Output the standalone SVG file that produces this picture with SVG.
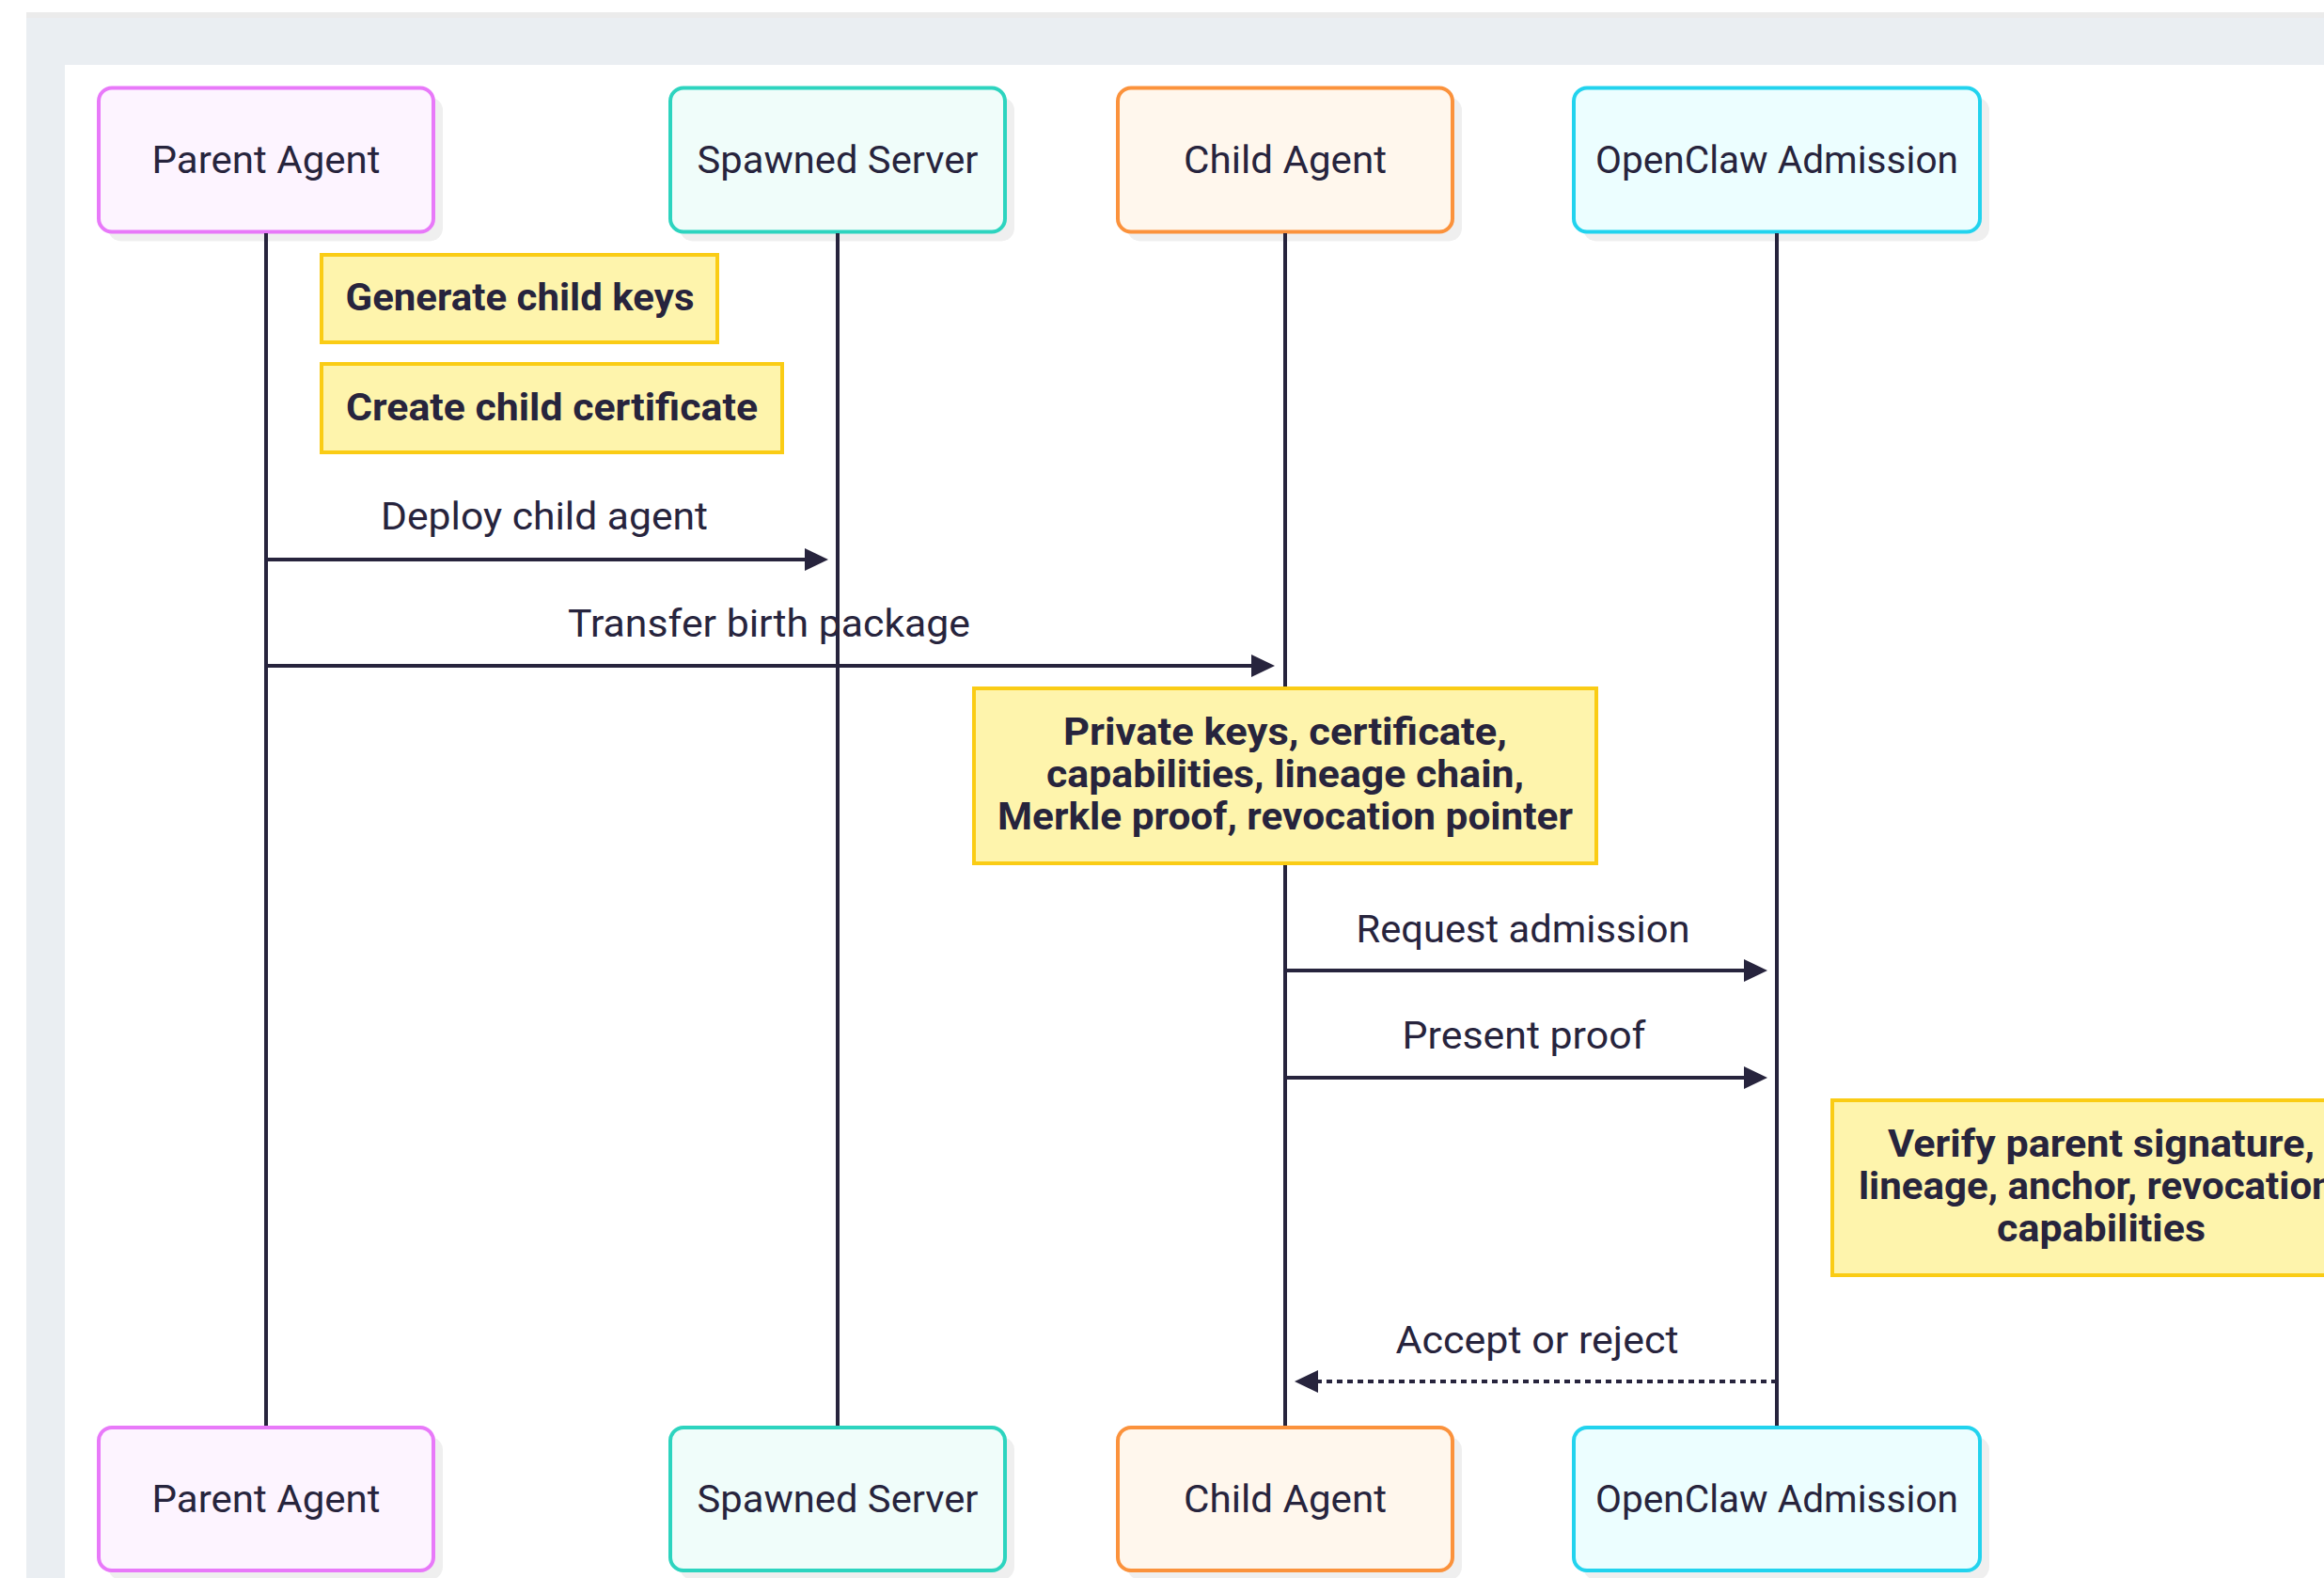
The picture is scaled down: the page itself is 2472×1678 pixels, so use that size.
<svg xmlns="http://www.w3.org/2000/svg" width="2472" height="1678" viewBox="0 0 2472 1678">
  <defs>
    <style>
      .txt { font-family: Roboto, "Noto Sans", sans-serif; font-size: 40px; fill: #27243D; text-anchor: middle; }
      .bold { font-weight: 700; }
      .shadow { fill: #EFEFEF; }
      .box { stroke-width: 4; }
      .parent { fill: #FDF4FF; stroke: #E879F9; }
      .spawned { fill: #F0FDFA; stroke: #2DD4BF; }
      .child { fill: #FFF7ED; stroke: #FB923C; }
      .openclaw { fill: #ECFEFF; stroke: #22D3EE; }
      .note { fill: #FEF4AC; stroke: #FACC15; stroke-width: 4; }
      .lifeline { stroke: #27243D; stroke-width: 4; fill: none; }
      .msg { stroke: #27243D; stroke-width: 4; fill: none; }
      .dashed { stroke-dasharray: 6 5; }
    </style>
    <marker id="arrow" markerUnits="userSpaceOnUse" markerWidth="26" markerHeight="26" refX="15" refY="12" orient="auto">
      <path d="M0,0 L25,12 L0,24 z" fill="#27243D"/>
    </marker>
  </defs>

  <!-- frame -->
  <rect x="28" y="13" width="2444" height="1665" fill="#EAEEF2"/>
  <rect x="28" y="13" width="2444" height="6" fill="#EBEBEB"/>
  <rect x="69" y="69" width="2403" height="1609" fill="#FFFFFF"/>

  <!-- actors top -->
  <g id="actor-parent-top">
    <rect class="shadow" x="115" y="103.5" width="356" height="153" rx="14"/>
    <rect class="box parent" x="105" y="93.5" width="356" height="153" rx="14"/>
    <text class="txt" x="283" y="184" textLength="243" lengthAdjust="spacingAndGlyphs">Parent Agent</text>
  </g>
  <g id="actor-spawned-top">
    <rect class="shadow" x="723" y="103.5" width="356" height="153" rx="14"/>
    <rect class="box spawned" x="713" y="93.5" width="356" height="153" rx="14"/>
    <text class="txt" x="891" y="184" textLength="299" lengthAdjust="spacingAndGlyphs">Spawned Server</text>
  </g>
  <g id="actor-child-top">
    <rect class="shadow" x="1199" y="103.5" width="356" height="153" rx="14"/>
    <rect class="box child" x="1189" y="93.5" width="356" height="153" rx="14"/>
    <text class="txt" x="1367" y="184" textLength="216" lengthAdjust="spacingAndGlyphs">Child Agent</text>
  </g>
  <g id="actor-openclaw-top">
    <rect class="shadow" x="1684" y="103.5" width="432" height="153" rx="14"/>
    <rect class="box openclaw" x="1674" y="93.5" width="432" height="153" rx="14"/>
    <text class="txt" x="1890" y="184" textLength="386" lengthAdjust="spacingAndGlyphs">OpenClaw Admission</text>
  </g>

  <!-- lifelines -->
  <g id="lifelines">
    <line class="lifeline" x1="283" y1="248" x2="283" y2="1516"/>
    <line class="lifeline" x1="891" y1="248" x2="891" y2="1516"/>
    <line class="lifeline" x1="1367" y1="248" x2="1367" y2="1516"/>
    <line class="lifeline" x1="1890" y1="248" x2="1890" y2="1516"/>
  </g>

  <!-- notes -->
  <g id="note-generate-keys">
    <rect class="note" x="342" y="271" width="421" height="93"/>
    <text class="txt bold" x="553" y="330" textLength="371" lengthAdjust="spacingAndGlyphs">Generate child keys</text>
  </g>
  <g id="note-create-cert">
    <rect class="note" x="342" y="387" width="490" height="94"/>
    <text class="txt bold" x="587" y="447" textLength="438" lengthAdjust="spacingAndGlyphs">Create child certificate</text>
  </g>
  <g id="note-birth-package">
    <rect class="note" x="1036" y="732" width="662" height="186"/>
    <text class="txt bold" x="1367" y="792" textLength="472" lengthAdjust="spacingAndGlyphs">Private keys, certificate,</text>
    <text class="txt bold" x="1367" y="837" textLength="508" lengthAdjust="spacingAndGlyphs">capabilities, lineage chain,</text>
    <text class="txt bold" x="1367" y="882" textLength="612" lengthAdjust="spacingAndGlyphs">Merkle proof, revocation pointer</text>
  </g>
  <g id="note-verify">
    <rect class="note" x="1949" y="1170" width="572" height="186"/>
    <text class="txt bold" x="2235" y="1230" textLength="454" lengthAdjust="spacingAndGlyphs">Verify parent signature,</text>
    <text class="txt bold" x="2235" y="1275" textLength="516" lengthAdjust="spacingAndGlyphs">lineage, anchor, revocation,</text>
    <text class="txt bold" x="2235" y="1320" textLength="222" lengthAdjust="spacingAndGlyphs">capabilities</text>
  </g>

  <!-- connectors -->
  <g id="connectors">
    <g id="msg-deploy">
      <line class="msg" x1="283" y1="595" x2="871" y2="595" marker-end="url(#arrow)"/>
      <text class="txt" x="579" y="563" textLength="348" lengthAdjust="spacingAndGlyphs">Deploy child agent</text>
    </g>
    <g id="msg-transfer">
      <line class="msg" x1="283" y1="708" x2="1346" y2="708" marker-end="url(#arrow)"/>
      <text class="txt" x="818" y="677" textLength="428" lengthAdjust="spacingAndGlyphs">Transfer birth package</text>
    </g>
    <g id="msg-request">
      <line class="msg" x1="1367" y1="1032" x2="1870" y2="1032" marker-end="url(#arrow)"/>
      <text class="txt" x="1620" y="1002" textLength="355" lengthAdjust="spacingAndGlyphs">Request admission</text>
    </g>
    <g id="msg-present">
      <line class="msg" x1="1367" y1="1146" x2="1870" y2="1146" marker-end="url(#arrow)"/>
      <text class="txt" x="1621" y="1115" textLength="259" lengthAdjust="spacingAndGlyphs">Present proof</text>
    </g>
    <g id="msg-accept">
      <line class="msg dashed" x1="1890" y1="1469" x2="1387" y2="1469" marker-end="url(#arrow)"/>
      <text class="txt" x="1635" y="1439" textLength="301" lengthAdjust="spacingAndGlyphs">Accept or reject</text>
    </g>
  </g>

  <!-- actors bottom -->
  <g id="actor-parent-bottom">
    <rect class="shadow" x="115" y="1528" width="356" height="152" rx="14"/>
    <rect class="box parent" x="105" y="1518" width="356" height="152" rx="14"/>
    <text class="txt" x="283" y="1608" textLength="243" lengthAdjust="spacingAndGlyphs">Parent Agent</text>
  </g>
  <g id="actor-spawned-bottom">
    <rect class="shadow" x="723" y="1528" width="356" height="152" rx="14"/>
    <rect class="box spawned" x="713" y="1518" width="356" height="152" rx="14"/>
    <text class="txt" x="891" y="1608" textLength="299" lengthAdjust="spacingAndGlyphs">Spawned Server</text>
  </g>
  <g id="actor-child-bottom">
    <rect class="shadow" x="1199" y="1528" width="356" height="152" rx="14"/>
    <rect class="box child" x="1189" y="1518" width="356" height="152" rx="14"/>
    <text class="txt" x="1367" y="1608" textLength="216" lengthAdjust="spacingAndGlyphs">Child Agent</text>
  </g>
  <g id="actor-openclaw-bottom">
    <rect class="shadow" x="1684" y="1528" width="432" height="152" rx="14"/>
    <rect class="box openclaw" x="1674" y="1518" width="432" height="152" rx="14"/>
    <text class="txt" x="1890" y="1608" textLength="386" lengthAdjust="spacingAndGlyphs">OpenClaw Admission</text>
  </g>
</svg>
